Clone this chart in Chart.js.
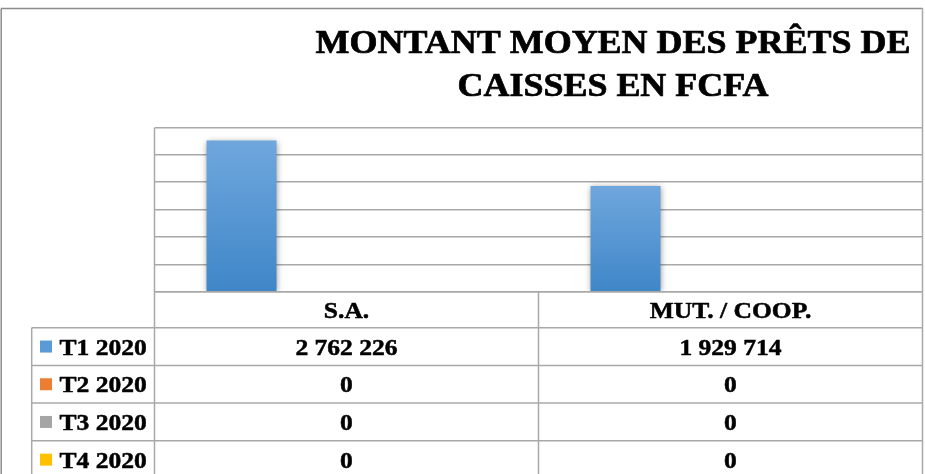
<!DOCTYPE html>
<html>
<head>
<meta charset="utf-8">
<script src="https://cdn.jsdelivr.net/npm/chart.js@4/dist/chart.umd.min.js"></script>
<style>
html,body{margin:0;padding:0;background:#fff;}
#wrap{width:925px;height:474px;}
</style>
</head>
<body>
<div id="wrap"><canvas id="c" width="925" height="474"></canvas></div>
<script>
// ---- data ----
const titleLines = ['MONTANT MOYEN DES PRÊTS DE', 'CAISSES EN FCFA'];
const categories = ['S.A.', 'MUT. / COOP.'];
const seriesNames = ['T1 2020', 'T2 2020', 'T3 2020', 'T4 2020'];
const t1_2020 = [2762226, 1929714];
const t2_2020 = [0, 0];
const t3_2020 = [0, 0];
const t4_2020 = [0, 0];
const yMin = 0;
const yMax = 3000000;
const yStep = 500000;

// ---- styles ----
const seriesColors = ['#5B9BD5', '#ED7D31', '#A5A5A5', '#FFC000'];
const seriesTops = ['#6fa7dd', '#f29a5e', '#bdbdbd', '#ffd24d'];
const seriesBottoms = ['#3f86c8', '#d9661b', '#8f8f8f', '#e6ad00'];
const gridColor = '#a8a8a8';
const SERIF = '"Liberation Serif", "Times New Roman", serif';

const seriesData = [t1_2020, t2_2020, t3_2020, t4_2020];

function fmt(n) {
  return String(n).replace(/\B(?=(\d{3})+(?!\d))/g, ' ');
}

function barGradient(i) {
  return function (c) {
    const chart = c.chart;
    const area = chart.chartArea;
    if (!area || c.raw === undefined) return seriesColors[i];
    const y = chart.scales.y;
    const top = y.getPixelForValue(c.raw);
    const bottom = y.getPixelForValue(0);
    if (Math.abs(bottom - top) < 1) return seriesColors[i];
    const g = chart.ctx.createLinearGradient(0, top, 0, bottom);
    g.addColorStop(0, seriesTops[i]);
    g.addColorStop(1, seriesBottoms[i]);
    return g;
  };
}

function drawText(ctx, text, x, y, size, sx, align) {
  ctx.save();
  ctx.font = 'bold ' + size + 'px ' + SERIF;
  ctx.fillStyle = '#000';
  ctx.strokeStyle = '#000';
  ctx.lineWidth = size > 30 ? 0.7 : 0.5;
  ctx.lineJoin = 'round';
  ctx.textBaseline = 'alphabetic';
  ctx.textAlign = align || 'center';
  ctx.translate(x, y);
  ctx.scale(sx, 1);
  ctx.fillText(text, 0, 0);
  ctx.strokeText(text, 0, 0);
  ctx.restore();
}

function line(ctx, x1, y1, x2, y2) {
  ctx.beginPath();
  ctx.moveTo(x1, y1);
  ctx.lineTo(x2, y2);
  ctx.stroke();
}

const decorPlugin = {
  id: 'decor',
  beforeDatasetsDraw(chart) {
    const ctx = chart.ctx;
    ctx.save();
    ctx.shadowColor = 'rgba(0,0,0,0.4)';
    ctx.shadowBlur = 6;
    ctx.shadowOffsetX = 0;
    ctx.shadowOffsetY = 1;
  },
  afterDatasetsDraw(chart) {
    chart.ctx.restore();
  },
  afterDraw(chart) {
    const ctx = chart.ctx;
    const a = chart.chartArea;
    const W = chart.width, H = chart.height;

    // outer frame
    ctx.save();
    ctx.strokeStyle = '#8c8c8c';
    ctx.lineWidth = 1.5;
    line(ctx, 1, 8.5, a.right, 8.5);
    line(ctx, 1.2, 8.5, 1.2, H);
    ctx.restore();

    // title
    drawText(ctx, titleLines[0], 613, 53, 33, 1.09);
    drawText(ctx, titleLines[1], 613, 96, 33, 1.09);

    // table geometry
    const left = a.left, right = a.right;
    const keyLeft = 31.7;
    const colW = (right - left) / categories.length;
    const rowTops = [a.bottom, a.bottom + 36];
    const rowH = 37.7;
    for (let i = 1; i <= seriesNames.length; i++) rowTops.push(rowTops[1] + rowH * i);

    ctx.save();
    ctx.strokeStyle = gridColor;
    ctx.lineWidth = 1.5;
    // plot box sides
    line(ctx, left, a.top, left, H);
    line(ctx, right, 8, right, H);
    // header / row lines
    line(ctx, left, rowTops[0], right, rowTops[0]);
    for (let i = 1; i < rowTops.length; i++) {
      line(ctx, keyLeft, rowTops[i], right, rowTops[i]);
    }
    // key column left border
    line(ctx, keyLeft, rowTops[1], keyLeft, H);
    // category separators
    for (let j = 1; j < categories.length; j++) {
      const x = left + colW * j;
      line(ctx, x, rowTops[0], x, H);
    }
    ctx.restore();

    // header labels
    categories.forEach((cat, j) => {
      const cx = left + colW * (j + 0.5);
      drawText(ctx, cat, cx, rowTops[0] + 26.5, 23, 1.11);
    });
    // rows
    seriesNames.forEach((name, i) => {
      const top = rowTops[i + 1];
      const mid = top + rowH / 2;
      ctx.fillStyle = seriesColors[i];
      ctx.fillRect(40, mid - 6, 12, 12);
      drawText(ctx, name, 59.5, mid + 8, 23, 1.11, 'left');
      seriesData[i].forEach((v, j) => {
        const cx = left + colW * (j + 0.5);
        drawText(ctx, fmt(v), cx, mid + 8, 23, 1.11);
      });
    });
  }
};

new Chart(document.getElementById('c'), {
  type: 'bar',
  data: {
    labels: categories,
    datasets: seriesNames.map((n, i) => ({
      label: n,
      data: seriesData[i],
      backgroundColor: barGradient(i),
      borderWidth: 0,
      categoryPercentage: 0.729,
      barPercentage: 1.0
    }))
  },
  options: {
    responsive: false,
    animation: false,
    devicePixelRatio: 1,
    layout: { padding: { left: 154.5, right: 2.5, top: 127.5, bottom: 182.3 } },
    plugins: {
      legend: { display: false },
      title: { display: false },
      tooltip: { enabled: false }
    },
    scales: {
      x: { display: false },
      y: {
        display: true,
        min: yMin,
        max: yMax,
        ticks: { display: false, stepSize: yStep },
        grid: { color: gridColor, lineWidth: 1.5, drawTicks: false },
        border: { display: false }
      }
    }
  },
  plugins: [decorPlugin]
});
</script>
</body>
</html>
